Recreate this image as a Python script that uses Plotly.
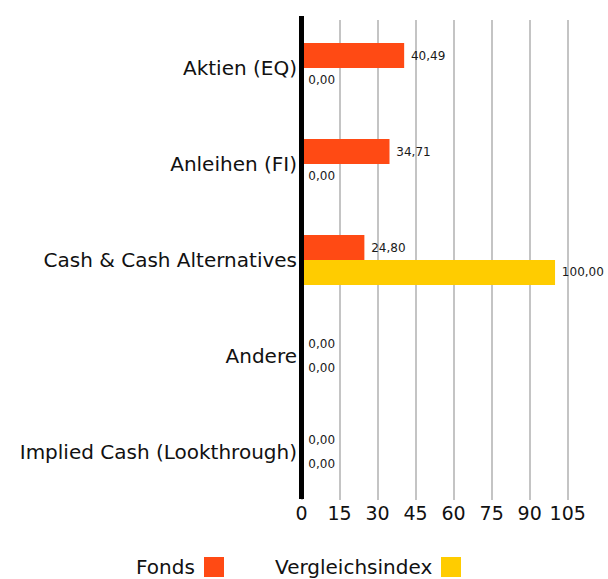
import plotly.graph_objects as go

categories = ["Aktien (EQ)", "Anleihen (FI)", "Cash & Cash Alternatives", "Andere", "Implied Cash (Lookthrough)"]
fonds = [40.49, 34.71, 24.80, 0.00, 0.00]
vergleich = [0.00, 0.00, 100.00, 0.00, 0.00]
tick_vals = [0, 15, 30, 45, 60, 75, 90, 105]

ORANGE = "#FF4A14"
YELLOW = "#FFCC00"
FONT = "DejaVu Sans"

fig = go.Figure()
fig.add_trace(go.Bar(y=categories, x=fonds, orientation="h", name="Fonds",
                     marker=dict(color=ORANGE, line=dict(width=0)),
                     texttemplate=" %{x:.2f}", textposition="outside",
                     textfont=dict(size=12, color="#1a1a1a"), cliponaxis=False))
fig.add_trace(go.Bar(y=categories, x=vergleich, orientation="h", name="Vergleichsindex",
                     marker=dict(color=YELLOW, line=dict(width=0)),
                     texttemplate=" %{x:.2f}", textposition="outside",
                     textfont=dict(size=12, color="#1a1a1a"), cliponaxis=False))

W, H = 608, 579
L, R, T, B = 298, 3, 20, 79
PW, PH = W - L - R, H - T - B
X0, X1 = -1.38, 119.7

fig.update_layout(
    width=W, height=H,
    margin=dict(l=L, r=R, t=T, b=B),
    paper_bgcolor="white", plot_bgcolor="white",
    separators=",.",
    barmode="group", bargap=0.48, bargroupgap=0,
    showlegend=False,
    font=dict(family=FONT, color="#111"),
    xaxis=dict(range=[X0, X1], tickvals=tick_vals, showgrid=True, gridcolor="#c4c4c4", gridwidth=2,
               zeroline=False, showline=False, ticks="", tickfont=dict(size=19, color="#111")),
    yaxis=dict(autorange="reversed", showline=False,
               showgrid=False, ticks="", ticklabelstandoff=0, tickfont=dict(size=20, color="#111")),
)

def px_x(p):
    return (p - L) / PW

def px_y(p):
    return (T + PH - p) / PH

# thick black baseline at x = 0 (slightly taller than the plot area)
zx = (0 - X0) / (X1 - X0)
fig.add_shape(type="line", xref="paper", yref="paper", x0=zx, x1=zx, y0=px_y(499), y1=px_y(16),
              line=dict(color="black", width=5), layer="above")

# custom legend (text followed by colour square)
fig.add_annotation(xref="paper", yref="paper", x=px_x(197), y=px_y(567), xanchor="right", yanchor="middle",
                   text="Fonds", showarrow=False, font=dict(size=20, color="#111"))
fig.add_shape(type="rect", xref="paper", yref="paper",
              x0=px_x(204), x1=px_x(224), y0=px_y(577), y1=px_y(557),
              fillcolor=ORANGE, line=dict(width=0))
fig.add_annotation(xref="paper", yref="paper", x=px_x(434), y=px_y(567), xanchor="right", yanchor="middle",
                   text="Vergleichsindex", showarrow=False, font=dict(size=20, color="#111"))
fig.add_shape(type="rect", xref="paper", yref="paper",
              x0=px_x(441), x1=px_x(461), y0=px_y(577), y1=px_y(557),
              fillcolor=YELLOW, line=dict(width=0))

fig.write_html("out.html", config={"displayModeBar": False},
               post_script="document.body.style.margin='0px'; document.body.style.overflow='hidden';")
